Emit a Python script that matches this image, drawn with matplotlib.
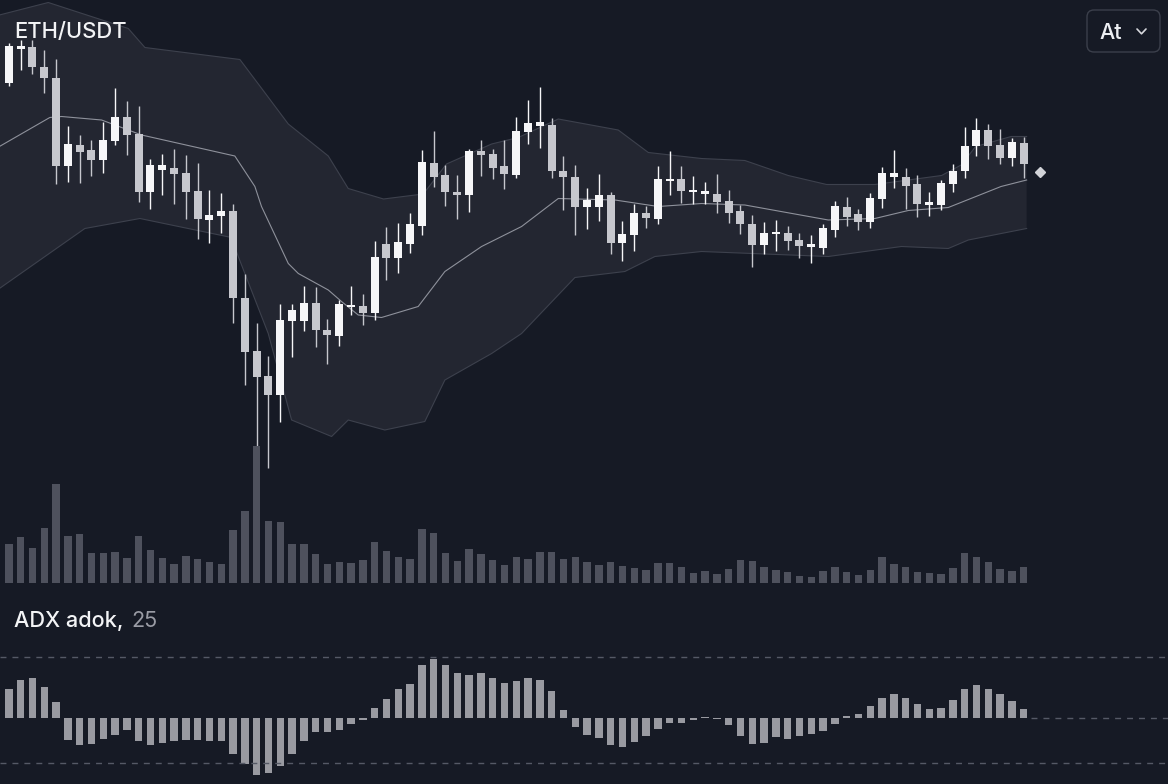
import matplotlib
matplotlib.use("Agg")
import matplotlib.pyplot as plt
import numpy as np
from matplotlib.patches import FancyBboxPatch
from matplotlib.lines import Line2D

# ---------------- data ----------------
opens = [3835, 3903, 3907, 3867, 3845, 3669, 3711, 3701, 3681, 3719,
         3766, 3732, 3617, 3660, 3665, 3654, 3618, 3561, 3568, 3578,
         3405, 3298, 3248, 3210, 3359, 3359, 3395, 3340, 3329, 3387,
         3388, 3375, 3513, 3485, 3513, 3549, 3675, 3650, 3617, 3610,
         3698, 3693, 3668, 3651, 3737, 3748, 3750, 3659, 3647, 3587,
         3587, 3611, 3515, 3530, 3575, 3563, 3639, 3642, 3617, 3613,
         3613, 3598, 3579, 3553, 3510, 3532, 3535, 3520, 3506, 3504,
         3541, 3587, 3572, 3557, 3603, 3646, 3647, 3632, 3591, 3591,
         3633, 3658, 3709, 3741, 3710, 3685, 3715]
highs = [3915, 3921, 3920, 3901, 3883, 3748, 3731, 3721, 3757, 3825,
         3799, 3788, 3682, 3693, 3703, 3691, 3675, 3621, 3615, 3592,
         3453, 3355, 3288, 3393, 3392, 3428, 3427, 3363, 3400, 3428,
         3413, 3518, 3547, 3555, 3575, 3701, 3738, 3670, 3650, 3703,
         3720, 3703, 3720, 3766, 3801, 3827, 3765, 3688, 3670, 3624,
         3652, 3617, 3558, 3592, 3588, 3668, 3698, 3669, 3648, 3637,
         3652, 3620, 3590, 3571, 3557, 3560, 3549, 3535, 3530, 3552,
         3598, 3607, 3583, 3615, 3667, 3701, 3665, 3650, 3617, 3641,
         3673, 3747, 3765, 3753, 3743, 3725, 3727]
lows = [3829, 3860, 3853, 3815, 3633, 3637, 3635, 3649, 3655, 3710,
        3690, 3597, 3582, 3610, 3592, 3563, 3523, 3515, 3535, 3355,
        3231, 3106, 3065, 3157, 3287, 3339, 3307, 3272, 3308, 3370,
        3351, 3361, 3440, 3455, 3495, 3531, 3627, 3589, 3563, 3577,
        3649, 3643, 3623, 3645, 3713, 3705, 3645, 3581, 3531, 3543,
        3559, 3492, 3479, 3499, 3545, 3553, 3610, 3595, 3592, 3592,
        3574, 3555, 3533, 3467, 3492, 3499, 3500, 3485, 3475, 3492,
        3527, 3548, 3540, 3545, 3585, 3625, 3582, 3567, 3569, 3581,
        3617, 3645, 3688, 3683, 3673, 3668, 3645]
closes = [3908, 3909, 3867, 3845, 3669, 3712, 3697, 3681, 3721, 3767,
          3731, 3617, 3671, 3670, 3653, 3617, 3563, 3571, 3579, 3405,
          3297, 3247, 3211, 3361, 3381, 3395, 3340, 3330, 3393, 3391,
          3375, 3487, 3485, 3516, 3552, 3676, 3647, 3617, 3611, 3699,
          3691, 3665, 3653, 3739, 3755, 3756, 3659, 3647, 3586, 3600,
          3610, 3515, 3533, 3575, 3565, 3643, 3643, 3618, 3621, 3619,
          3597, 3575, 3553, 3510, 3535, 3537, 3519, 3509, 3513, 3544,
          3588, 3567, 3557, 3605, 3655, 3655, 3629, 3592, 3596, 3635,
          3659, 3709, 3740, 3709, 3684, 3716, 3673]

volumes = [38.3, 46, 34.7, 54.7, 98.7, 46.3, 48.7, 29.3, 30, 30.7,
           25, 46.7, 33, 25, 18.7, 26.3, 23.7, 20.3, 18.7, 52.3,
           72, 136.7, 62, 61, 38.3, 38.7, 28.7, 19, 20.3, 19.7,
           23, 40.7, 31.7, 25.3, 23.3, 53.7, 49.3, 30, 22, 33.7,
           28.3, 22.7, 17.7, 25.3, 23.7, 30.7, 30.3, 23.7, 26, 20.7,
           17.7, 20.7, 16.7, 14.7, 12.3, 20, 19.3, 15.7, 10, 12,
           9, 13.7, 22.7, 21.3, 15.7, 12.3, 11, 7, 5.7, 11.3,
           15.7, 10.7, 7.3, 12.3, 25.3, 19, 15.3, 10.7, 10, 8.7,
           15, 30, 25.7, 20.3, 14, 11.7, 15.7]

adx = [28.7, 38, 40.3, 31.3, 15.7, -22.3, -26.7, -26.3, -21, -17,
       -12, -22.7, -27, -24.7, -22.7, -22.3, -21.7, -23.3, -23.3, -35.7,
       -46, -57, -54.7, -48, -36, -23.3, -14.3, -14.3, -12, -6.3,
       -2, 9.7, 19, 28.7, 33.7, 53, 58.7, 53.3, 44.7, 42.7,
       45.3, 40, 35, 37, 40, 38, 27.3, 8, -8.7, -17,
       -19.7, -26.7, -28.7, -24.3, -18.3, -11, -4.7, -5.3, -2, 1.3,
       -1.3, -7, -18.3, -26.3, -24.7, -19.3, -20.7, -18, -15.7, -13.3,
       -6, 2.3, 4, 12, 20, 24, 20, 14, 9, 10,
       17.7, 28.7, 33, 28.7, 23.7, 17, 9]
adx_upper_level = 61
adx_lower_level = -45

# Bollinger band vertices (candle index, price)
upper_x = [-0.8, 3.34, 10.12, 11.53, 19.58, 21.27, 23.68, 27.07, 28.76, 31.75,
           35.12, 37.09, 40.91, 43.17, 46.56, 51.64, 54.19, 58.70, 62.37, 66.05,
           69.30, 73.39, 79.04, 80.7, 81.93, 84.94, 86.25]
upper_y = [3970, 3995, 3943, 3905, 3881, 3828, 3752, 3688, 3623, 3602,
           3612, 3672, 3712, 3725, 3762, 3740, 3695, 3683, 3679, 3649,
           3631, 3631, 3649, 3670, 3707, 3727, 3727]
middle_x = [-0.8, 3.47, 4.47, 7.86, 11.25, 19.15, 20.85, 21.41, 23.68, 24.53,
            27.07, 28.19, 29.61, 31.58, 34.69, 36.95, 40.06, 43.45, 46.56, 51.36,
            55.03, 58.70, 62.37, 69.44, 73.39, 76.22, 79.61, 84.08, 86.25]
middle_y = [3707, 3765, 3767, 3760, 3730, 3688, 3627, 3587, 3473, 3453,
            3420, 3397, 3370, 3365, 3387, 3457, 3507, 3547, 3603, 3600,
            3587, 3593, 3590, 3560, 3563, 3579, 3585, 3627, 3640]
lower_x = [-0.8, 6.44, 11.11, 18.87, 19.44, 21.98, 23.96, 27.35, 28.76, 31.86,
           35.25, 36.95, 40.91, 43.45, 47.97, 52.20, 54.75, 58.70, 69.44, 75.64,
           79.61, 81.31, 86.25]
lower_y = [3423, 3543, 3563, 3525, 3487, 3333, 3160, 3127, 3160, 3140,
           3157, 3240, 3293, 3333, 3445, 3457, 3487, 3497, 3487, 3507,
           3503, 3520, 3543]

last_price_marker = 3657
title = "ETH/USDT"
adx_title = "ADX adok,"
adx_param = "25"
button_label = "At"

# ---------------- style ----------------
BG = "#161a25"
BAND = "#232631"
BAND_EDGE = "#3d414d"
MID = "#8e919b"
WHITE = "#f6f6f8"
GREY = "#c6c7cd"
VOL = "#4e515d"
ADXC = "#999aa1"
DASH = "#555966"
FONT = ["Inter", "DejaVu Sans"]

W, H = 1168, 784
XL = (-0.75, 98.23)
fig = plt.figure(figsize=(W / 100, H / 100), dpi=100, facecolor=BG)

def px_axes(top, bottom):
    a = fig.add_axes([0, 1 - bottom / H, 1, (bottom - top) / H])
    a.set_facecolor("none")
    a.set_axis_off()
    a.set_xlim(*XL)
    return a

n = len(opens)
x = np.arange(n)
o = np.array(opens, float); c = np.array(closes, float)
hi = np.array(highs, float); lo = np.array(lows, float)

# price panel
ax = px_axes(0, 600)
ax.set_ylim(2800, 4000)
ax.fill(np.r_[upper_x, lower_x[::-1]], np.r_[upper_y, lower_y[::-1]],
        color=BAND, lw=0, zorder=1)
ax.plot(upper_x, upper_y, color=BAND_EDGE, lw=0.8, zorder=2)
ax.plot(lower_x, lower_y, color=BAND_EDGE, lw=0.8, zorder=2)
ax.plot(middle_x, middle_y, color=MID, lw=0.8, zorder=2)

up = c >= o
cols = np.where(up, WHITE, GREY)
ax.vlines(x, lo, hi, colors=cols, lw=1.0, zorder=3)
body_lo = np.minimum(o, c)
body_h = np.maximum(np.abs(c - o), 4)
ax.bar(x, body_h, bottom=body_lo, width=0.68, color=cols, lw=0, zorder=4)
ax.plot([n - 1 + 1.35], [last_price_marker], marker="D", ms=5.5,
        color="#d2d3d8", lw=0, zorder=5)

# volume panel
axv = px_axes(382.7, 582.7)
axv.set_ylim(0, 200)
axv.bar(x, volumes, width=0.62, color=VOL, lw=0)

# ADX panel
axa = px_axes(640, 784)
axa.set_ylim(-66, 78)
axa.axhline(adx_upper_level, color=DASH, lw=1, ls=(0, (4.3, 4.3)))
axa.axhline(adx_lower_level, color=DASH, lw=1, ls=(0, (4.3, 4.3)))
axa.hlines(0, n - 0.4, XL[1], color=DASH, lw=1, ls=(0, (4.3, 4.3)))
axa.bar(x, adx, width=0.63, color=ADXC, lw=0)

# texts
fig.text(14 / W, 1 - 37.7 / H, title, fontsize=15.8, color="#f3f4f6",
         va="baseline", ha="left", family=FONT, weight="medium")
fig.text(14 / W, 1 - 626.7 / H, adx_title, fontsize=15.6, color="#f3f4f6",
         va="baseline", ha="left", family=FONT, weight="medium")
fig.text(131.5 / W, 1 - 626.7 / H, adx_param, fontsize=15.6, color="#9a9ca5",
         va="baseline", ha="left", family=FONT)

# top-right button
btn = FancyBboxPatch((10.87, (H - 52) / 100), 0.73, 0.42,
                     boxstyle="round,pad=0,rounding_size=0.07",
                     transform=fig.dpi_scale_trans, facecolor=BG,
                     edgecolor="#3b3f4b", lw=1.0)
fig.add_artist(btn)
fig.text(1099 / W, 1 - 39 / H, button_label, fontsize=15.5, color="#eceef2",
         va="baseline", ha="left", family=FONT, weight="medium")
fig.add_artist(Line2D([11.37, 11.415, 11.46],
                      [(H - 29) / 100, (H - 33.8) / 100, (H - 29) / 100],
                      transform=fig.dpi_scale_trans, color="#d6d7dc", lw=1.2,
                      solid_capstyle="round", solid_joinstyle="round"))

fig.savefig("out.png", dpi=100, facecolor=BG)
